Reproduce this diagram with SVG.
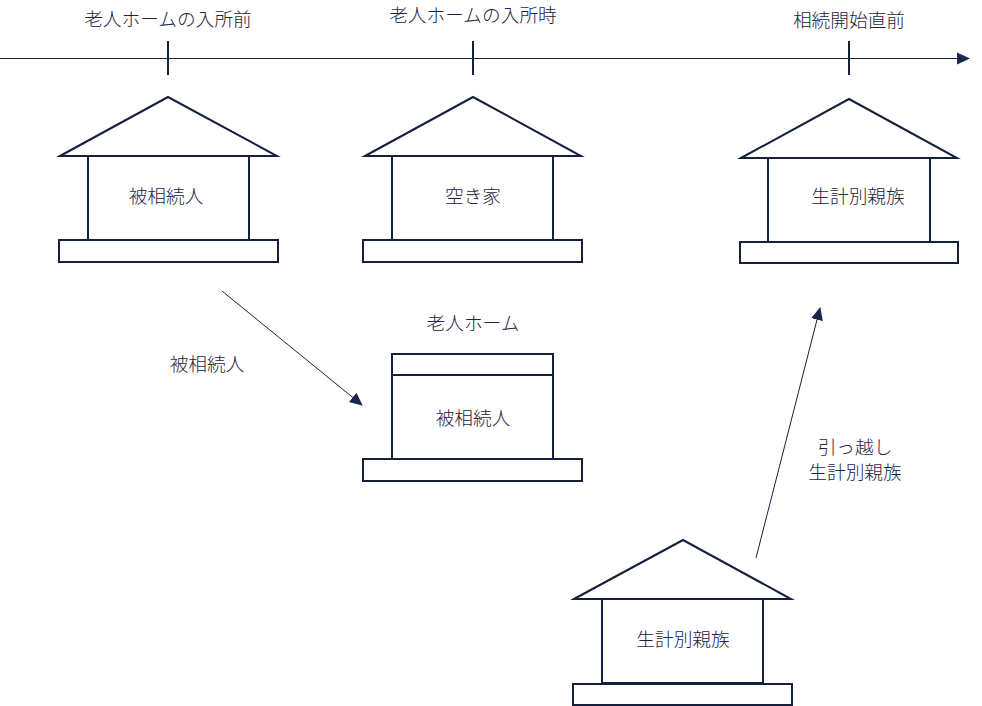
<svg xmlns="http://www.w3.org/2000/svg" width="982" height="706" viewBox="0 0 982 706">
<style>
text{font-family:"Noto Sans CJK JP","Noto Sans",sans-serif;font-size:18.7px;font-weight:300;fill:#1c2440;text-anchor:middle}
.s{fill:#fff;stroke:#14203c;stroke-width:2;stroke-miterlimit:10}
.l{stroke:#14203c;stroke-width:1;fill:none}
.t{stroke:#14203c;stroke-width:2;fill:none}
</style>
<defs>
<marker id="a" markerWidth="14" markerHeight="14" refX="12" refY="6.5" orient="auto" markerUnits="userSpaceOnUse"><path d="M0 0.5L13 6.5L0 12.5Z" fill="#1b2550"/></marker>
</defs>
<rect width="982" height="706" fill="#fff"/>
<g id="connectors">
<line class="l" x1="0" y1="58.5" x2="969" y2="58.5" marker-end="url(#a)"/>
<line class="t" x1="168" y1="41" x2="168" y2="75"/>
<line class="t" x1="473" y1="41" x2="473" y2="75"/>
<line class="t" x1="849" y1="41" x2="849" y2="75"/>
<line class="l" x1="222" y1="291" x2="362" y2="405" marker-end="url(#a)"/>
<line class="l" x1="756" y1="558" x2="820" y2="308" marker-end="url(#a)"/>
</g>
<g id="time1"><text x="168" y="26">老人ホームの入所前</text></g>
<g id="time2"><text x="473" y="22">老人ホームの入所時</text></g>
<g id="time3"><text x="849" y="27">相続開始直前</text></g>
<g id="house1"><path class="s" d="M60 156L168 97L277 156Z"/><rect class="s" x="88" y="156" width="161" height="84"/><rect class="s" x="59" y="240" width="219" height="22"/><text x="166" y="203">被相続人</text></g>
<g id="house2"><path class="s" d="M365 156L473 97L581 156Z"/><rect class="s" x="392" y="156" width="161" height="84"/><rect class="s" x="363" y="240" width="219" height="22"/><text x="473" y="203">空き家</text></g>
<g id="house3"><path class="s" d="M741 158L849 99L957 158Z"/><rect class="s" x="768" y="158" width="162" height="84"/><rect class="s" x="740" y="242" width="218" height="21"/><text x="858" y="203">生計別親族</text></g>
<g id="home"><rect class="s" x="392" y="354" width="161" height="21"/><rect class="s" x="392" y="375" width="161" height="84"/><rect class="s" x="363" y="459" width="219" height="22"/><text x="473" y="330">老人ホーム</text><text x="473" y="425">被相続人</text></g>
<g id="house4"><path class="s" d="M574 599L683 540L791 599Z"/><rect class="s" x="602" y="599" width="161" height="84"/><rect class="s" x="573" y="684" width="219" height="21"/><text x="683" y="646">生計別親族</text></g>
<g id="label1"><text x="207" y="371">被相続人</text></g>
<g id="label2"><text x="855" y="454" font-size="18">引っ越し</text><text x="855" y="479">生計別親族</text></g>
</svg>
